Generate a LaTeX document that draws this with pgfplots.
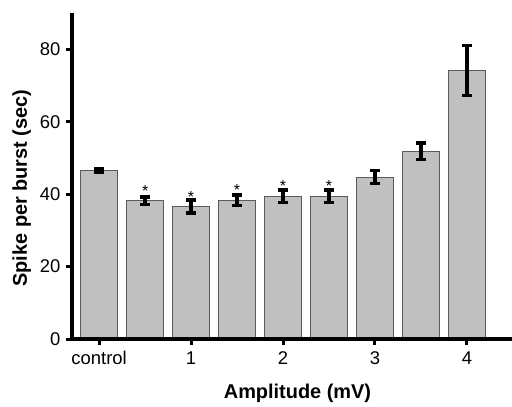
\documentclass[border=0pt]{standalone}
\usepackage{pgfplots}
\pgfplotsset{compat=1.18}
\usepackage{fontspec}
\setmainfont{Liberation Sans}
\definecolor{barfill}{HTML}{C0C0C0}
\definecolor{baredge}{HTML}{5A5A5A}
\begin{document}
\begin{tikzpicture}
\path[use as bounding box] (-72bp,-68bp) rectangle (440bp,339bp);
\begin{axis}[
  at={(0,0)}, anchor=south west,
  scale only axis, width=440bp, height=326bp,
  xmin=-0.59, xmax=8.98, ymin=0, ymax=90,
  axis on top,
  axis x line=bottom, axis y line=left,
  axis line style={line width=3.2bp, -},
  tick align=outside, major tick length=6bp,
  tick style={line width=3bp, black},
  ytick={0,20,...,80},
  xtick={0,2,4,6,8},
  xticklabels={control,1,2,3,4},
  /pgf/number format/assume math mode=true,
  ticklabel style={font=\fontsize{18.5}{19}\selectfont},
  yticklabel style={xshift=-2bp},
  xticklabel style={yshift=-3bp},
  ylabel={\textbf{Spike per burst (sec)}},
  xlabel={\textbf{Amplitude (mV)}},
  label style={font=\fontsize{20}{22}\selectfont},
  ylabel style={at={(axis description cs:-0.114,0.463)}, anchor=center},
  xlabel style={at={(axis description cs:0.5125,-0.166)}, anchor=center},
  clip=false,
]
\addplot[ybar, bar width=0.8, fill=barfill, draw=baredge, line width=1bp,
  error bars/.cd, y dir=both, y explicit,
  error bar style={line width=3.4bp, black},
  error mark options={rotate=90, mark size=4.8bp, line width=3.4bp, black}]
  coordinates {
  (0,46.6) +- (0,0.5)
  (1,38.2) +- (0,1.0)
  (2,36.6) +- (0,1.8)
  (3,38.3) +- (0,1.5)
  (4,39.4) +- (0,1.7)
  (5,39.4) +- (0,1.7)
  (6,44.7) +- (0,1.85)
  (7,51.8) +- (0,2.3)
  (8,74.1) +- (0,6.9)
  };
% significance stars
\addplot[draw=none, mark=none, nodes near coords={*},
  every node near coord/.append style={font=\fontsize{16}{16}\selectfont, anchor=center, yshift=-3.5bp, inner sep=0pt}]
  coordinates {(1,41.8) (2,40.2) (3,42.1) (4,43.2) (5,43.2)};
\end{axis}
\end{tikzpicture}
\end{document}
